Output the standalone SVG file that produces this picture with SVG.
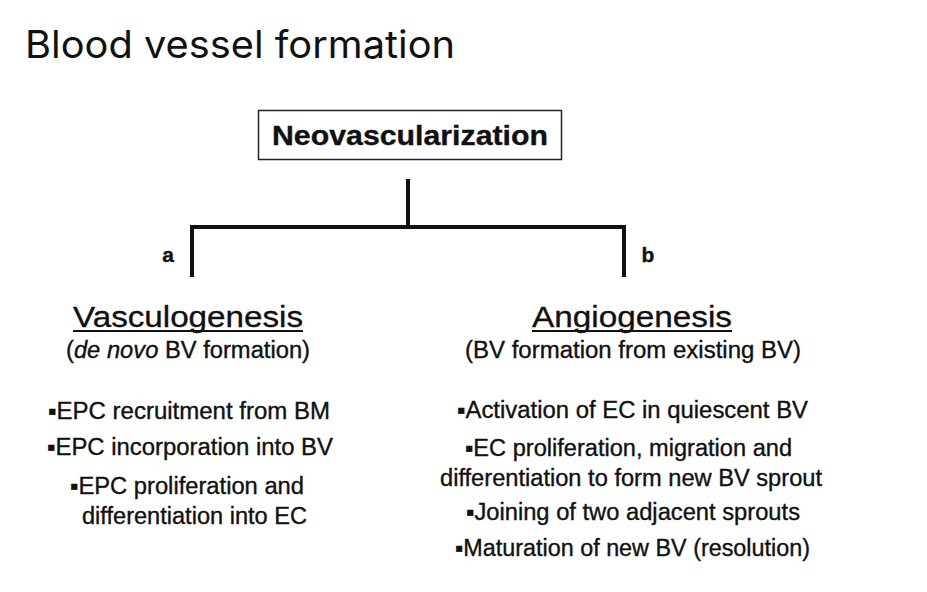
<svg xmlns="http://www.w3.org/2000/svg" width="927" height="592" viewBox="0 0 927 592">
<style>
.t{font-family:"Liberation Sans",Arial,sans-serif;fill:#111;stroke:#111;stroke-width:0.35}
.h{font-size:30px;text-anchor:middle}
.s{font-size:23px;text-anchor:middle}
.b{font-size:23px}
.ln{stroke:#111;stroke-width:4;fill:none}
</style>
<rect width="927" height="592" fill="#fff"/>
<text x="25" y="58" font-family="Inter,'Noto Sans',sans-serif" font-size="38" fill="#111" textLength="430" lengthAdjust="spacingAndGlyphs">Blood vessel formation</text>
<g id="root">
<rect x="258.5" y="110.5" width="303" height="49" fill="#fff" stroke="#222" stroke-width="1.5"/>
<text class="t" x="410" y="145" font-size="27" font-weight="bold" text-anchor="middle" textLength="276" lengthAdjust="spacingAndGlyphs">Neovascularization</text>
</g>
<g id="connectors">
<path class="ln" d="M408 179V227M192 277V227H624V277"/>
<text class="t" x="168" y="262" font-size="21" font-weight="bold" text-anchor="middle">a</text>
<text class="t" x="648" y="262" font-size="21" font-weight="bold" text-anchor="middle">b</text>
</g>
<g id="vasculogenesis">
<text class="t h" x="188" y="327" textLength="230" lengthAdjust="spacingAndGlyphs">Vasculogenesis</text>
<line x1="73" y1="331" x2="303" y2="331" stroke="#111" stroke-width="2"/>
<text class="t s" x="188" y="358" textLength="244" lengthAdjust="spacingAndGlyphs">(<tspan font-style="italic">de novo</tspan> BV formation)</text>
<text class="t b" x="48" y="419" textLength="282" lengthAdjust="spacingAndGlyphs">▪EPC recruitment from BM</text>
<text class="t b" x="47" y="455" textLength="286" lengthAdjust="spacingAndGlyphs">▪EPC incorporation into BV</text>
<text class="t b" x="70" y="494" textLength="234" lengthAdjust="spacingAndGlyphs">▪EPC proliferation and</text>
<text class="t b" x="82" y="524" textLength="225" lengthAdjust="spacingAndGlyphs">differentiation into EC</text>
</g>
<g id="angiogenesis">
<text class="t h" x="632" y="327" textLength="200" lengthAdjust="spacingAndGlyphs">Angiogenesis</text>
<line x1="532" y1="331" x2="732" y2="331" stroke="#111" stroke-width="2"/>
<text class="t s" x="633" y="358" textLength="336" lengthAdjust="spacingAndGlyphs">(BV formation from existing BV)</text>
<text class="t b" x="457" y="418" textLength="351" lengthAdjust="spacingAndGlyphs">▪Activation of EC in quiescent BV</text>
<text class="t b" x="465" y="456" textLength="327" lengthAdjust="spacingAndGlyphs">▪EC proliferation, migration and</text>
<text class="t b" x="440" y="486" textLength="382" lengthAdjust="spacingAndGlyphs">differentiation to form new BV sprout</text>
<text class="t b" x="466" y="520" textLength="334" lengthAdjust="spacingAndGlyphs">▪Joining of two adjacent sprouts</text>
<text class="t b" x="455" y="556" textLength="355" lengthAdjust="spacingAndGlyphs">▪Maturation of new BV (resolution)</text>
</g>
</svg>
